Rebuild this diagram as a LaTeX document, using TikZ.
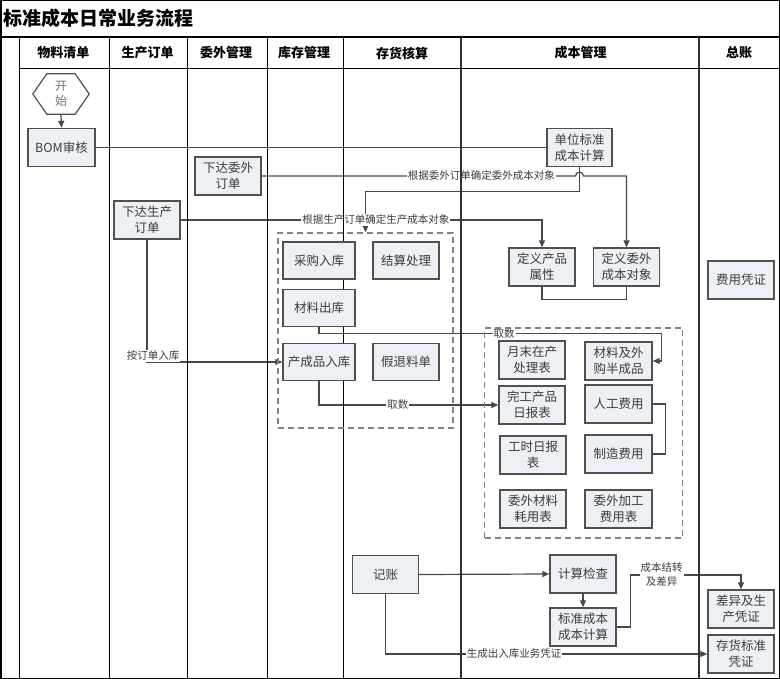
\documentclass[tikz,border=0pt]{standalone}
\usepackage{fontspec}
\setmainfont{Noto Sans CJK SC}
\usetikzlibrary{arrows.meta}
\definecolor{boxfill}{RGB}{237,240,244}
\definecolor{boxline}{RGB}{80,80,80}
\definecolor{txtgray}{RGB}{60,60,60}
\definecolor{linegray}{RGB}{72,72,72}
\definecolor{dashgray}{RGB}{130,130,130}
\pgfdeclarelayer{links}
\pgfdeclarelayer{lanes}
\pgfsetlayers{links,lanes,main}
\tikzset{
  box/.style={rectangle, draw=boxline, fill=boxfill, line width=1.4pt,
    minimum width=66pt, minimum height=38pt, inner sep=1pt, align=center,
    text=txtgray, font=\fontsize{12.5pt}{16pt}\selectfont},
  widebox/.style={box, minimum width=72pt, minimum height=37pt},
  group/.style={rectangle, draw=dashgray, line width=1.4pt, dash pattern=on 6pt off 4pt},
  link/.style={draw=linegray, line width=1.2pt},
  flow/.style={link, -{Triangle[length=7pt,width=6pt]}},
  lbl/.style={fill=white, inner sep=1pt, text=txtgray, font=\fontsize{10.5pt}{13pt}\selectfont},
  lanehead/.style={font=\bfseries\fontsize{13pt}{15pt}\selectfont},
  lane/.style={draw=black, line width=1pt},
  mainlane/.style={draw=black!80, line width=2pt}
}
\begin{document}
\begin{tikzpicture}[x=1pt, y=-1pt]
    \useasboundingbox (0,0) rectangle (780,679);

    % Title and lane heads
    \node[anchor=west, inner sep=0pt, font=\bfseries\fontsize{19pt}{22pt}\selectfont] at (3,18) (title) {标准成本日常业务流程};
    \node[lanehead] at (63.5,53)  (hbom)   {物料清单};
    \node[lanehead] at (147.5,53) (horder) {生产订单};
    \node[lanehead] at (226,53)   (hout)   {委外管理};
    \node[lanehead] at (304,53)   (hstock) {库存管理};
    \node[lanehead] at (402,53)   (hinv)   {存货核算};
    \node[lanehead] at (580.5,53) (hcost)  {成本管理};
    \node[lanehead] at (739,53)   (hgl)    {总账};

    % Nodes
    \node[minimum width=56pt, minimum height=40pt, inner sep=0pt, align=center, text=black!55,
          font=\fontsize{12pt}{15pt}\selectfont] at (61,94) (start) {开\\始};
    \node[box, minimum width=67pt] at (61.5,147.5) (bom)     {BOM审核};
    \node[box, minimum width=65pt] at (579.5,147.5) (unitstd) {单位标准\\成本计算};
    \node[box] at (228,176)   (wwdd) {下达委外\\订单};
    \node[box] at (147,220)   (scdd) {下达生产\\订单};
    \node[box] at (542,267)   (dycp) {定义产品\\属性};
    \node[box] at (626.5,267) (wwcb) {定义委外\\成本对象};
    \node[box] at (741,280)   (fypz) {费用凭证};

    \node[group, minimum width=175pt, minimum height=195pt] at (365.5,330.5) (stockgrp) {};
    \node[widebox] at (319,260.5) (cgrk) {采购入库};
    \node[box, minimum height=37pt] at (406,260.5) (jscl) {结算处理};
    \node[widebox] at (319,308)   (clck) {材料出库};
    \node[widebox] at (319,362)   (ccrk) {产成品入库};
    \node[box, minimum height=37pt] at (406,362)   (jtld) {假退料单};

    \node[group, minimum width=198pt, minimum height=210pt] at (583.5,433) (costgrp) {};
    \node[box] at (532,360)   (ymzc) {月末在产\\处理表};
    \node[box, minimum width=67pt] at (618.5,361) (clwg) {材料及外\\购半成品};
    \node[box] at (532,405)   (wgcp) {完工产品\\日报表};
    \node[box, minimum width=67pt] at (618.5,404) (rgfy) {人工费用};
    \node[box] at (533,455)   (gsrb) {工时日报\\表};
    \node[box, minimum width=67pt] at (618.5,454) (zzfy) {制造费用};
    \node[box] at (533,509)   (wwcl) {委外材料\\耗用表};
    \node[box, minimum width=67pt] at (618.5,509) (wwjg) {委外加工\\费用表};

    \node[box] at (385.5,574.5) (jz)   {记账};
    \node[box] at (583,574)     (jsjc) {计算检查};
    \node[box] at (583,627)     (bzcb) {标准成本\\成本计算};
    \node[box] at (741,609)     (cysc) {差异及生\\产凭证};
    \node[box] at (741,654)     (chbz) {存货标准\\凭证};

    \draw[draw=boxline, line width=1.2pt] (start.west) -- ([xshift=14pt]start.north west) -- ([xshift=-14pt]start.north east)
        -- (start.east) -- ([xshift=-14pt]start.south east) -- ([xshift=14pt]start.south west) -- cycle;

    % Lanes
    \begin{pgfonlayer}{lanes}
    \draw[line width=1.5pt] (0.75,0.75) rectangle (779.25,678.25);
    \draw[line width=2pt] (0,37) -- (780,37);
    \draw[lane] (19,69) -- (780,69);
    \draw[lane] (19,37) -- (19,678);
    \draw[lane] (109,37) -- (109,678);
    \draw[lane] (187,37) -- (187,678);
    \draw[lane] (267,37) -- (267,678);
    \draw[lane] (343,37) -- (343,678);
    \draw[mainlane] (461,37) -- (461,678);
    \draw[mainlane] (699,37) -- (699,678);
    \end{pgfonlayer}

    % Connectors
    \begin{pgfonlayer}{links}
    \draw[flow] (start.south) -- (bom.north);
    \draw[link] (bom.east) -- (unitstd.west);
    \draw[flow] (wwdd.east) -- node[lbl, pos=0.7] {根据委外订单确定委外成本对象} (575.5,176)
        arc[start angle=180, end angle=0, radius=4pt] -| (wwcb.north);
    \draw[flow] (unitstd.south) -- ++(0,24) -| (stockgrp.north);
    \draw[flow] (scdd.east) -| node[lbl, pos=0.27] {根据生产订单确定生产成本对象} (dycp.north);
    \draw[link] (dycp.south) -- ++(0,13) -| (wwcb.south);
    \draw[flow] (scdd.south) |- node[lbl, pos=0.5, xshift=6pt, yshift=6pt] {按订单入库} (ccrk.west);
    \draw[flow] (clck.south) -- ++(0,6) -| node[lbl, pos=0.27] {取数} ([xshift=9pt]clwg.east) -- (clwg.east);
    \draw[flow] (ccrk.south) |- node[lbl, pos=0.72] {取数} (wgcp.west);
    \draw[link] (rgfy.east) -- ++(13,0) |- (zzfy.east);
    \draw[flow] (jz.east) -- (jsjc.west);
    \draw[flow] (jsjc.south) -- (bzcb.north);
    \draw[flow] (bzcb.east) -- ++(14,0) -- ++(0,-52) -| node[lbl, pos=0.14, align=center,
        font=\fontsize{10.5pt}{14pt}\selectfont] {成本结转\\及差异} (cysc.north);
    \draw[flow] (jz.south) |- node[lbl, pos=0.7] {生成出入库业务凭证} (chbz.west);
    \end{pgfonlayer}
\end{tikzpicture}
\end{document}
